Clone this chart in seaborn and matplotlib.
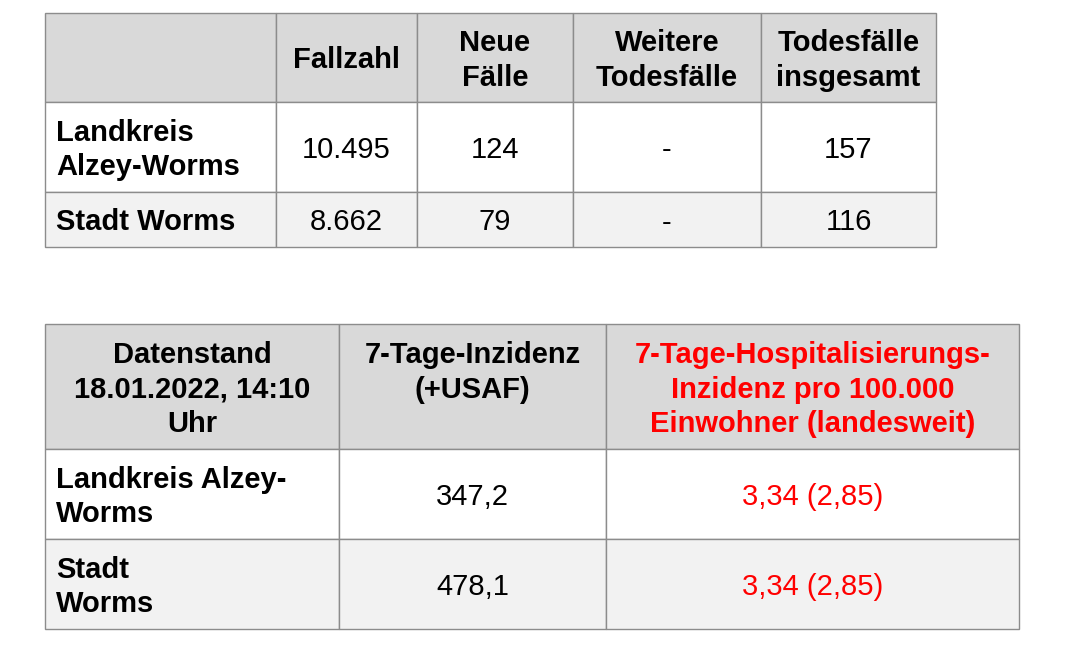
import matplotlib
matplotlib.use("Agg")
import matplotlib.pyplot as plt
from matplotlib.patches import Rectangle
import seaborn as sns

# ---- data ----
t1_headers = ["", "Fallzahl", "Neue\nFälle", "Weitere\nTodesfälle", "Todesfälle\ninsgesamt"]
t1_rows = ["Landkreis\nAlzey-Worms", "Stadt Worms"]
t1_fallzahl = ["10.495", "8.662"]
t1_neue = ["124", "79"]
t1_weitere = ["-", "-"]
t1_tod_ges = ["157", "116"]

t2_headers = ["Datenstand\n18.01.2022, 14:10\nUhr", "7-Tage-Inzidenz\n(+USAF)",
              "7-Tage-Hospitalisierungs-\nInzidenz pro 100.000\nEinwohner (landesweit)"]
t2_rows = ["Landkreis Alzey-\nWorms", "Stadt\nWorms"]
t2_inzidenz = ["347,2", "478,1"]
t2_hosp = ["3,34 (2,85)", "3,34 (2,85)"]

# ---- layout (pixels) ----
W, H = 1084, 655
t1_cols = [45, 276, 417, 573, 761, 936]
t1_rowsy = [13, 102, 192, 247]
t2_cols = [45, 339, 606, 1019]
t2_rowsy = [324, 449, 539, 629]

HEADER_BG = "#d9d9d9"
WHITE_BG = "#ffffff"
LIGHT_BG = "#f2f2f2"
BORDER = "#8c8c8c"
RED = "#ff0000"
FS = 21
LS = 1.3

sns.set_theme(style="white")
plt.rcParams["font.family"] = ["Liberation Sans", "DejaVu Sans"]

fig = plt.figure(figsize=(W / 100, H / 100), dpi=100)
ax = fig.add_axes([0, 0, 1, 1])
ax.set_xlim(0, W)
ax.set_ylim(H, 0)
ax.axis("off")


def draw_table(cols, rowsy, cells, colors, bold_map, left_map, header_top=None):
    bgs = [HEADER_BG, WHITE_BG, LIGHT_BG]
    for r in range(len(rowsy) - 1):
        y0, y1 = rowsy[r], rowsy[r + 1]
        for c in range(len(cols) - 1):
            x0, x1 = cols[c], cols[c + 1]
            ax.add_patch(Rectangle((x0, y0), x1 - x0, y1 - y0, facecolor=bgs[r],
                                   edgecolor=BORDER, linewidth=1.0))
            txt = cells[r][c]
            if not txt:
                continue
            left = left_map[r][c]
            x = x0 + 11 if left else (x0 + x1) / 2
            if r == 0 and header_top is not None:
                y, va = y0 + header_top, "top"
            else:
                y, va = (y0 + y1) / 2 + 3, "center"
            ax.text(x, y, txt, ha="left" if left else "center",
                    va=va, multialignment="left" if left else "center",
                    fontsize=FS, fontweight="bold" if bold_map[r][c] else "normal",
                    color=colors[r][c], linespacing=LS)


# table 1
cells1 = [t1_headers]
for i, name in enumerate(t1_rows):
    cells1.append([name, t1_fallzahl[i], t1_neue[i], t1_weitere[i], t1_tod_ges[i]])
colors1 = [["black"] * 5 for _ in range(3)]
bold1 = [[True] * 5] + [[True, False, False, False, False] for _ in range(2)]
left1 = [[False] * 5] + [[True, False, False, False, False] for _ in range(2)]
draw_table(t1_cols, t1_rowsy, cells1, colors1, bold1, left1)

# table 2
cells2 = [t2_headers]
for i, name in enumerate(t2_rows):
    cells2.append([name, t2_inzidenz[i], t2_hosp[i]])
colors2 = [["black", "black", RED] for _ in range(3)]
bold2 = [[True] * 3] + [[True, False, False] for _ in range(2)]
left2 = [[False] * 3] + [[True, False, False] for _ in range(2)]
draw_table(t2_cols, t2_rowsy, cells2, colors2, bold2, left2, header_top=17)

fig.savefig("out.png", dpi=100, facecolor="white")
